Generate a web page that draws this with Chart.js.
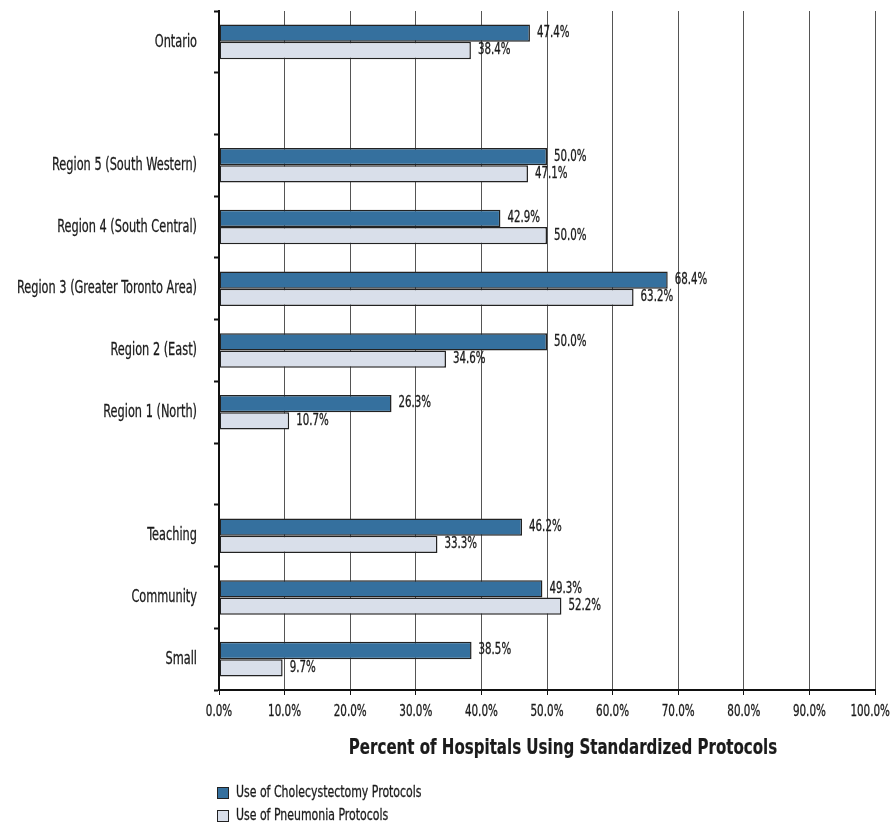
<!DOCTYPE html>
<html>
<head>
<meta charset="utf-8">
<script src="https://cdn.jsdelivr.net/npm/chart.js@4.4.1/dist/chart.umd.min.js"></script>
<style>
  body { margin: 0; background: #fff; }
</style>
</head>
<body>
<canvas id="chart" width="894" height="825"></canvas>
<script>
const FONT = '"DejaVu Sans Condensed", sans-serif';

// categories (blank entries leave gaps between groups)
const categories = ['Ontario', '', 'Region 5 (South Western)', 'Region 4 (South Central)',
  'Region 3 (Greater Toronto Area)', 'Region 2 (East)', 'Region 1 (North)', '',
  'Teaching', 'Community', 'Small'];
const cholecystectomy = [47.4, null, 50.0, 42.9, 68.4, 50.0, 26.3, null, 46.2, 49.3, 38.5];
const pneumonia = [38.4, null, 47.1, 50.0, 63.2, 34.6, 10.7, null, 33.3, 52.2, 9.7];
const seriesNames = ['Use of Cholecystectomy Protocols', 'Use of Pneumonia Protocols'];
const seriesColors = ['#35709e', '#d9dfea'];
const xTicks = [0, 10, 20, 30, 40, 50, 60, 70, 80, 90, 100];
const axisTitle = 'Percent of Hospitals Using Standardized Protocols';

// narrow text: draw with a horizontal squeeze so it looks like a condensed face
function drawText(ctx, text, x, y, size, weight, sx, align) {
  ctx.save();
  ctx.font = weight + ' ' + size + 'px ' + FONT;
  // keep text inside the canvas on the right
  const w = ctx.measureText(text).width * sx;
  const right = align === 'center' ? x + w / 2 : (align === 'left' ? x + w : x);
  if (right > ctx.canvas.width - 4) x -= right - (ctx.canvas.width - 4);
  ctx.translate(x, y);
  ctx.scale(sx, 1);
  ctx.textAlign = align;
  ctx.textBaseline = 'middle';
  ctx.fillStyle = '#1b1b1b';
  ctx.strokeStyle = '#1b1b1b';
  ctx.lineWidth = weight === 'bold' ? 0.2 : 0.3;
  ctx.fillText(text, 0, 0);
  ctx.strokeText(text, 0, 0);
  ctx.restore();
}

// all labels: category names, x ticks, axis title, bar values, legend
const textLayer = {
  id: 'textLayer',
  afterDraw(chart) {
    const ctx = chart.ctx;
    const xs = chart.scales.x, ys = chart.scales.y, area = chart.chartArea;

    categories.forEach((c, i) => {
      if (c) drawText(ctx, c, area.left - 22, ys.getPixelForValue(i), 18, 'normal', 0.7, 'right');
    });

    xTicks.forEach(v => {
      drawText(ctx, v.toFixed(1) + '%', xs.getPixelForValue(v), area.bottom + 22, 15, 'normal', 0.77, 'center');
    });

    drawText(ctx, axisTitle, (area.left + area.right) / 2 + 16, area.bottom + 58, 22, 'bold', 0.76, 'center');

    chart.data.datasets.forEach((ds, i) => {
      chart.getDatasetMeta(i).data.forEach((bar, j) => {
        const v = ds.data[j];
        if (v == null) return;
        drawText(ctx, v.toFixed(1) + '%', bar.x + 7, bar.y, 15, 'normal', 0.76, 'left');
      });
    });

    seriesNames.forEach((name, i) => {
      const top = area.bottom + 97 + i * 23;
      ctx.save();
      ctx.fillStyle = seriesColors[i];
      ctx.fillRect(217.5, top + 0.5, 11, 11);
      ctx.strokeStyle = '#222';
      ctx.lineWidth = 1;
      ctx.strokeRect(217.5, top + 0.5, 11, 11);
      ctx.restore();
      drawText(ctx, name, 236, top + 6, 16, 'normal', 0.76, 'left');
    });
  }
};

new Chart(document.getElementById('chart'), {
  type: 'bar',
  data: {
    labels: categories,
    datasets: [
      { label: seriesNames[0], data: cholecystectomy, backgroundColor: seriesColors[0] },
      { label: seriesNames[1], data: pneumonia, backgroundColor: seriesColors[1] }
    ]
  },
  options: {
    indexAxis: 'y',
    responsive: false,
    animation: false,
    layout: { padding: { top: 11, right: 19, bottom: 63, left: 0 } },
    datasets: {
      bar: {
        borderColor: '#222',
        borderWidth: 1.5,
        borderSkipped: false,
        categoryPercentage: 0.56,
        barPercentage: 1.0
      }
    },
    plugins: {
      legend: { display: false },
      tooltip: { enabled: false }
    },
    scales: {
      x: {
        min: 0,
        max: 100,
        afterBuildTicks(scale) { scale.ticks = xTicks.map(v => ({ value: v })); },
        afterFit(scale) {
          scale.height = 72;
          scale.paddingLeft = 0;
          scale.paddingRight = 0;
        },
        border: { color: '#111', width: 2 },
        grid: { color: '#555', lineWidth: 1, tickColor: '#111', tickLength: 5 },
        ticks: { display: false }
      },
      y: {
        afterFit(scale) {
          scale.width = 219;
          scale.paddingTop = 0;
          scale.paddingBottom = 0;
        },
        border: { color: '#111', width: 2 },
        grid: { drawOnChartArea: false, offset: true, tickColor: '#111', tickLength: 5, tickWidth: 2 },
        ticks: { display: false }
      }
    }
  },
  plugins: [textLayer]
});
</script>
</body>
</html>
